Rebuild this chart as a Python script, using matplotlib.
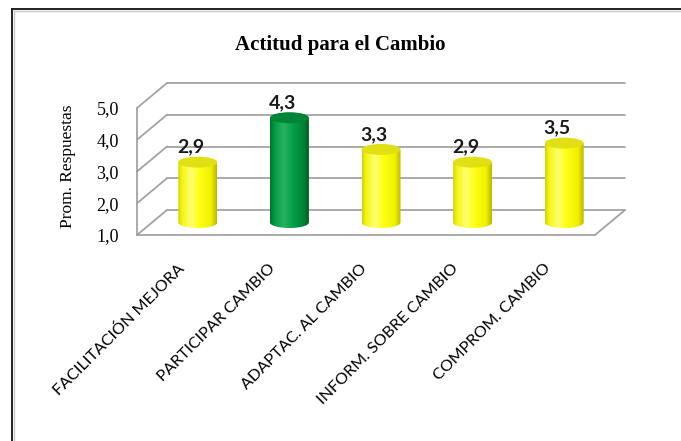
import numpy as np
import matplotlib
matplotlib.use("Agg")
import matplotlib.pyplot as plt
import matplotlib.transforms as mtransforms
from matplotlib.path import Path
from matplotlib.patches import PathPatch, Ellipse
from matplotlib.colors import LinearSegmentedColormap
from matplotlib.lines import Line2D

# ---- data ----
categories = ["FACILITACIÓN MEJORA", "PARTICIPAR CAMBIO", "ADAPTAC. AL CAMBIO",
              "INFORM. SOBRE CAMBIO", "COMPROM. CAMBIO"]
values = [2.9, 4.3, 3.3, 2.9, 3.5]
value_labels = ["2,9", "4,3", "3,3", "2,9", "3,5"]
highlighted = [False, True, False, False, False]
y_ticks = [1.0, 2.0, 3.0, 4.0, 5.0]
y_tick_labels = ["1,0", "2,0", "3,0", "4,0", "5,0"]
title = "Actitud para el Cambio"
y_title = "Prom. Respuestas"

W, H, DPI = 681, 441, 100
fig = plt.figure(figsize=(W / DPI, H / DPI), dpi=DPI)
fig.patch.set_facecolor("white")

# front plane of the 3D box
ax = fig.add_axes([137 / W, 1 - 235 / H, 458 / W, 127 / H])
ax.set_xlim(-0.5, len(categories) - 0.5)
ax.set_ylim(1, 5)
ax.patch.set_alpha(0)

# pixel -> data scale
px_x = (458 / len(categories))          # pixels per category
px_y = 127 / 4.0                        # pixels per value unit
DX = 30 / px_x                          # depth shift (x)
DY = 25 / px_y                          # depth shift (y)

grid_kw = dict(color="#a0a0a0", lw=1.25, clip_on=False, zorder=1,
               solid_capstyle="round")
x0, x1 = -0.5, len(categories) - 0.5
for v in y_ticks:
    # back wall line
    ax.plot([x0 + DX, x1 + DX], [v + DY, v + DY], **grid_kw)
    # side wall line
    ax.plot([x0, x0 + DX], [v, v + DY], **grid_kw)
# floor front edge and right edge, front left edge
ax.plot([x0, x1], [1, 1], **grid_kw)
ax.plot([x1, x1 + DX], [1, 1 + DY], **grid_kw)
ax.plot([x0, x0], [1, 5], **grid_kw)

for s in ax.spines.values():
    s.set_visible(False)

# ---- cylinders ----
yellow_cmap = LinearSegmentedColormap.from_list("yel", [
    (0.00, (0.82, 0.82, 0.05)),
    (0.10, (0.96, 0.96, 0.05)),
    (0.33, (1.00, 1.00, 0.45)),
    (0.55, (1.00, 1.00, 0.08)),
    (0.85, (0.94, 0.94, 0.00)),
    (1.00, (0.72, 0.72, 0.00)),
])
green_cmap = LinearSegmentedColormap.from_list("grn", [
    (0.00, (0.00, 0.45, 0.18)),
    (0.12, (0.03, 0.60, 0.27)),
    (0.35, (0.15, 0.70, 0.38)),
    (0.60, (0.02, 0.62, 0.28)),
    (0.88, (0.00, 0.50, 0.20)),
    (1.00, (0.00, 0.36, 0.13)),
])
top_yellow = (0.88, 0.88, 0.08)
top_green = (0.00, 0.52, 0.22)

hw = 19.5 / px_x      # half width of cylinder
ry = 5.5 / px_y       # half height of end ellipse
grad = np.linspace(0, 1, 256).reshape(1, -1)
t = np.linspace(np.pi, 2 * np.pi, 60)

for i, (v, hl) in enumerate(zip(values, highlighted)):
    cx = i + DX / 2
    bot = 1 + DY / 2
    top = v + DY / 2
    arc_x = cx + hw * np.cos(t)
    arc_y = bot + ry * np.sin(t)
    verts = [(cx - hw, top)] + list(zip(arc_x, arc_y)) + [(cx + hw, top), (cx - hw, top)]
    codes = [Path.MOVETO] + [Path.LINETO] * (len(verts) - 2) + [Path.CLOSEPOLY]
    body = PathPatch(Path(verts, codes), facecolor="none", edgecolor="none",
                     zorder=3)
    ax.add_patch(body)
    im = ax.imshow(grad, cmap=green_cmap if hl else yellow_cmap,
                   extent=[cx - hw, cx + hw, bot - ry, top + ry],
                   aspect="auto", zorder=3, interpolation="bilinear")
    im.set_clip_path(body)
    cap = Ellipse((cx, top), 2 * hw, 2 * ry,
                  facecolor=top_green if hl else top_yellow,
                  edgecolor="none", zorder=4)
    ax.add_patch(cap)
    ax.annotate(value_labels[i], (cx, top), xytext=(-7, 15),
                textcoords="offset pixels", ha="center", va="center",
                fontsize=14, fontweight="bold", family="Lato",
                color="#1a1a1a", zorder=5, annotation_clip=False)

ax.set_xlim(-0.5, len(categories) - 0.5)
ax.set_ylim(1, 5)

# ---- ticks ----
ax.set_yticks(y_ticks)
ax.set_yticklabels(y_tick_labels, family="Liberation Serif", fontsize=13)
ax.set_xticks(range(len(categories)))
ax.set_xticklabels(categories, rotation=45, ha="right", va="top",
                   rotation_mode="anchor", family="Lato", fontsize=11.6)
ax.tick_params(axis="y", length=0, pad=13)
ax.tick_params(axis="x", length=0, pad=19)
shift = mtransforms.ScaledTranslation(-6 / DPI, 0, fig.dpi_scale_trans)
for lab in ax.get_xticklabels():
    lab.set_transform(lab.get_transform() + shift)

fig.text(68 / W, 1 - 166 / H, y_title, rotation=90, ha="center", va="center",
         family="Liberation Serif", fontsize=12.5)
fig.text(340 / W, 1 - 45 / H, title, ha="center", va="center",
         family="Liberation Serif", fontweight="bold", fontsize=15)

# chart frame
fig.add_artist(Line2D([11.5 / W, 11.5 / W], [0, 1 - 8.5 / H],
                      transform=fig.transFigure, color="#202020", lw=1.4))
fig.add_artist(Line2D([11.5 / W, 1], [1 - 8.5 / H, 1 - 8.5 / H],
                      transform=fig.transFigure, color="#202020", lw=1.4))
fig.add_artist(Line2D([13.5 / W, 13.5 / W], [0, 1 - 10.5 / H],
                      transform=fig.transFigure, color="#c8c8c8", lw=1.0))
fig.add_artist(Line2D([13.5 / W, 1], [1 - 10.5 / H, 1 - 10.5 / H],
                      transform=fig.transFigure, color="#c8c8c8", lw=1.0))

fig.savefig("out.png", dpi=DPI)
